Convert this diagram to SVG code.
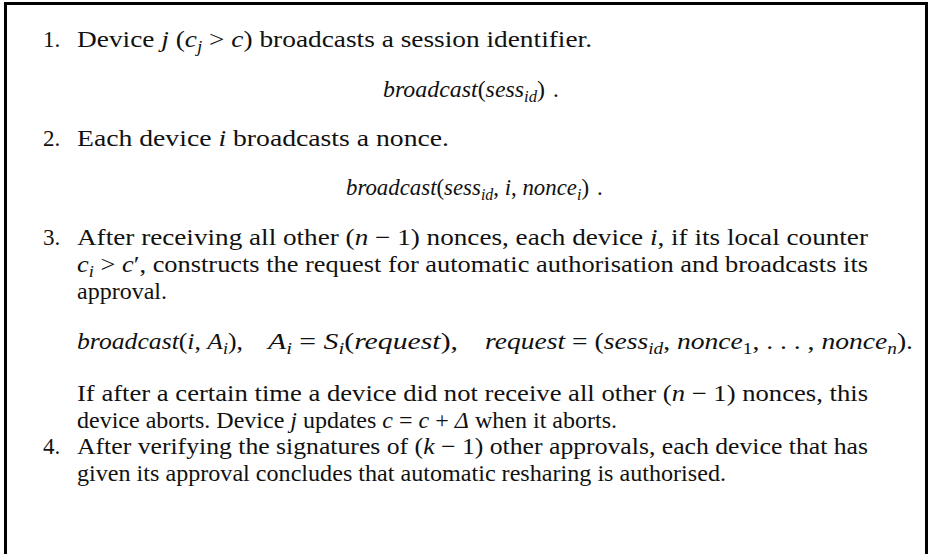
<svg xmlns="http://www.w3.org/2000/svg" width="929" height="554" viewBox="0 0 929 554">
  <style>
    .t { font-family: "Liberation Serif", "DejaVu Serif", serif; font-size: 23px; fill: #111; }
    .m { font-style: italic; }
    .s { font-size: 16px; }
    .frame { fill: none; stroke: #000; stroke-width: 3; }
  </style>
  <rect width="929" height="554" fill="#fff"/>
  <!-- open frame: left, top and right edges -->
  <path class="frame" d="M5.5,554 V3.5 H926.5 V554"/>

  <!-- step 1 -->
  <g id="step1">
    <text class="t" x="43" y="47">1.</text>
    <text class="t" x="77" y="47" textLength="515" lengthAdjust="spacingAndGlyphs">Device <tspan class="m">j</tspan> (<tspan class="m">c</tspan><tspan class="m s" dy="5">j</tspan><tspan dy="-5"> &gt; </tspan><tspan class="m">c</tspan>) broadcasts a session identifier.</text>
    <text class="t" x="383" y="97" textLength="162" lengthAdjust="spacingAndGlyphs"><tspan class="m">broadcast</tspan>(<tspan class="m">sess</tspan><tspan class="m s" dy="5">id</tspan><tspan dy="-5">)</tspan></text>
    <text class="t" x="553" y="97">.</text>
  </g>

  <!-- step 2 -->
  <g id="step2">
    <text class="t" x="43" y="146">2.</text>
    <text class="t" x="77" y="146" textLength="372" lengthAdjust="spacingAndGlyphs">Each device <tspan class="m">i</tspan> broadcasts a nonce.</text>
    <text class="t" x="346" y="195" textLength="243" lengthAdjust="spacingAndGlyphs"><tspan class="m">broadcast</tspan>(<tspan class="m">sess</tspan><tspan class="m s" dy="5">id</tspan><tspan dy="-5">, </tspan><tspan class="m">i</tspan>, <tspan class="m">nonce</tspan><tspan class="m s" dy="5">i</tspan><tspan dy="-5">)</tspan></text>
    <text class="t" x="597" y="195">.</text>
  </g>

  <!-- step 3 -->
  <g id="step3">
    <text class="t" x="43" y="245">3.</text>
    <text class="t" x="77" y="245" textLength="791" lengthAdjust="spacingAndGlyphs">After receiving all other (<tspan class="m">n</tspan> − 1) nonces, each device <tspan class="m">i</tspan>, if its local counter</text>
    <text class="t" x="77" y="272" textLength="791" lengthAdjust="spacingAndGlyphs"><tspan class="m">c</tspan><tspan class="m s" dy="5">i</tspan><tspan dy="-5"> &gt; </tspan><tspan class="m">c</tspan>′, constructs the request for automatic authorisation and broadcasts its</text>
    <text class="t" x="77" y="299" textLength="90" lengthAdjust="spacingAndGlyphs">approval.</text>

    <!-- displayed formula, three parts separated by quad spaces -->
    <text class="t" x="77" y="349" textLength="166" lengthAdjust="spacingAndGlyphs"><tspan class="m">broadcast</tspan>(<tspan class="m">i</tspan>, <tspan class="m">A</tspan><tspan class="m s" dy="5">i</tspan><tspan dy="-5">),</tspan></text>
    <text class="t" x="268" y="349" textLength="190" lengthAdjust="spacingAndGlyphs"><tspan class="m">A</tspan><tspan class="m s" dy="5">i</tspan><tspan dy="-5"> = </tspan><tspan class="m">S</tspan><tspan class="m s" dy="5">i</tspan><tspan dy="-5">(</tspan><tspan class="m">request</tspan>),</text>
    <text class="t" x="485" y="349" textLength="428" lengthAdjust="spacingAndGlyphs"><tspan class="m">request</tspan> = (<tspan class="m">sess</tspan><tspan class="m s" dy="5">id</tspan><tspan dy="-5">, </tspan><tspan class="m">nonce</tspan><tspan class="s" dy="5">1</tspan><tspan dy="-5">, . . . , </tspan><tspan class="m">nonce</tspan><tspan class="m s" dy="5">n</tspan><tspan dy="-5">).</tspan></text>

    <text class="t" x="77" y="401" textLength="791" lengthAdjust="spacingAndGlyphs">If after a certain time a device did not receive all other (<tspan class="m">n</tspan> − 1) nonces, this</text>
    <text class="t" x="77" y="428" textLength="540" lengthAdjust="spacingAndGlyphs">device aborts. Device <tspan class="m">j</tspan> updates <tspan class="m">c</tspan> = <tspan class="m">c</tspan> + <tspan class="m">Δ</tspan> when it aborts.</text>
  </g>

  <!-- step 4 -->
  <g id="step4">
    <text class="t" x="43" y="454">4.</text>
    <text class="t" x="77" y="454" textLength="791" lengthAdjust="spacingAndGlyphs">After verifying the signatures of (<tspan class="m">k</tspan> − 1) other approvals, each device that has</text>
    <text class="t" x="77" y="481" textLength="649" lengthAdjust="spacingAndGlyphs">given its approval concludes that automatic resharing is authorised.</text>
  </g>
</svg>
